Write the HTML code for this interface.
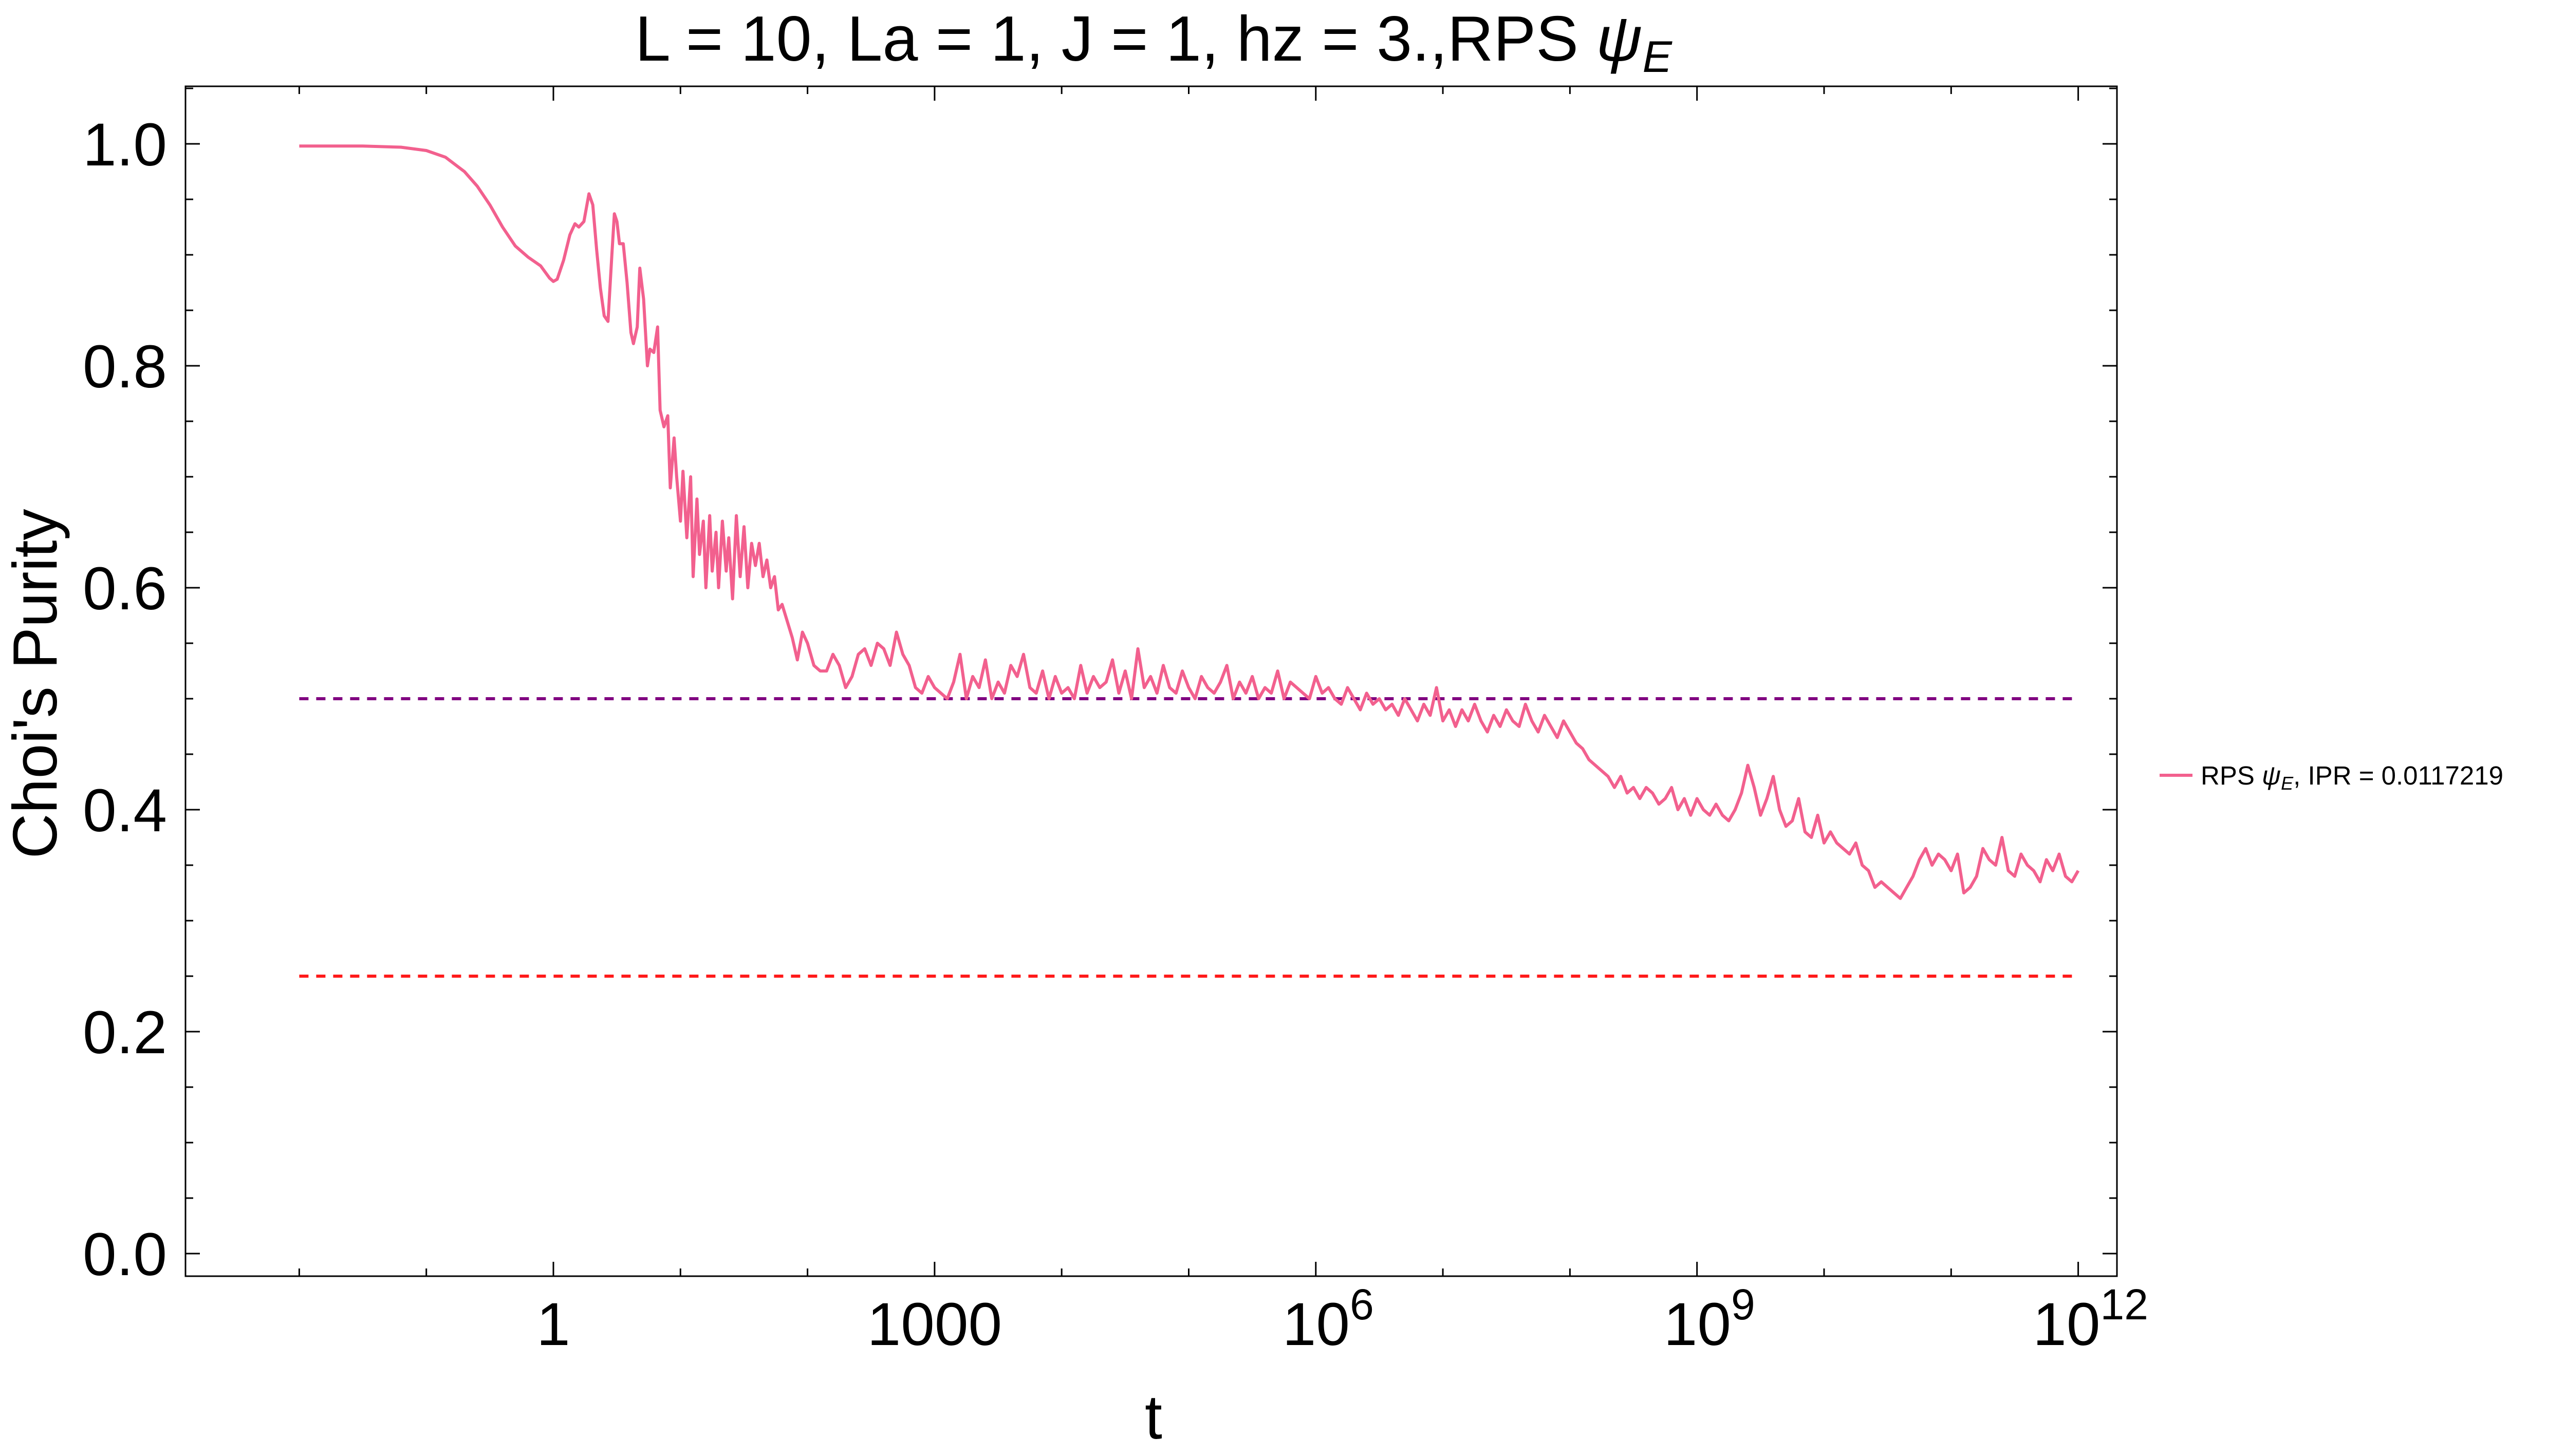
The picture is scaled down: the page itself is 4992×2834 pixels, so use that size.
<!DOCTYPE html>
<html><head><meta charset="utf-8"><style>
html,body{margin:0;padding:0;background:#fff;}
svg{display:block;font-family:"Liberation Sans",Arial,sans-serif;}
</style></head><body>
<svg id="chart" width="4992" height="2834" viewBox="0 0 4992 2834" xmlns="http://www.w3.org/2000/svg">
<rect x="0" y="0" width="4992" height="2834" fill="#fff"/>
<text x="2245" y="118" font-size="124" text-anchor="middle">L = 10, La = 1, J = 1, hz = 3.,RPS <tspan font-style="italic">ψ</tspan><tspan font-style="italic" font-size="86" dy="22">E</tspan></text>
<rect x="361" y="168" width="3759" height="2316" fill="none" stroke="#000" stroke-width="3"/>
<g id="ticks"></g>
<g id="ref-lines"></g>
<g id="series"></g>
<text transform="translate(110,1331) rotate(-90)" font-size="122" text-anchor="middle">Choi's Purity</text>
<text x="2245" y="2800" font-size="122" text-anchor="middle">t</text>
<g>
<line x1="4203" y1="1509" x2="4267" y2="1509" stroke="#F2608E" stroke-width="6"/>
<text x="4283" y="1527" font-size="51">RPS <tspan font-style="italic">ψ</tspan><tspan font-style="italic" font-size="36" dy="10">E</tspan><tspan dy="-10">, IPR = 0.0117219</tspan></text>
</g>
</svg>
<script>
const logT = [-2,-1.5,-1.2,-1,-0.85,-0.7,-0.6,-0.5,-0.4,-0.3,-0.2,-0.1,-0.03,0,0.03,0.08,0.13,0.17,0.2,0.24,0.28,0.31,0.34,0.37,0.4,0.43,0.46,0.48,0.5,0.52,0.55,0.58,0.61,0.63,0.66,0.68,0.71,0.74,0.76,0.79,0.82,0.84,0.87,0.9,0.92,0.95,0.97,1.0,1.02,1.05,1.08,1.1,1.13,1.15,1.18,1.2,1.23,1.25,1.28,1.3,1.33,1.36,1.38,1.41,1.44,1.47,1.5,1.53,1.56,1.59,1.62,1.65,1.68,1.71,1.74,1.77,1.8,1.84,1.88,1.92,1.96,2.0,2.05,2.1,2.15,2.2,2.25,2.3,2.35,2.4,2.45,2.5,2.55,2.6,2.65,2.7,2.75,2.8,2.85,2.9,2.95,3.0,3.05,3.1,3.15,3.2,3.25,3.3,3.35,3.4,3.45,3.5,3.55,3.6,3.65,3.7,3.75,3.8,3.85,3.9,3.95,4.0,4.05,4.1,4.15,4.2,4.25,4.3,4.35,4.4,4.45,4.5,4.55,4.6,4.65,4.7,4.75,4.8,4.85,4.9,4.95,5.0,5.05,5.1,5.15,5.2,5.25,5.3,5.35,5.4,5.45,5.5,5.55,5.6,5.65,5.7,5.75,5.8,5.85,5.9,5.95,6.0,6.05,6.1,6.15,6.2,6.25,6.3,6.35,6.4,6.45,6.5,6.55,6.6,6.65,6.7,6.75,6.8,6.85,6.9,6.95,7.0,7.05,7.1,7.15,7.2,7.25,7.3,7.35,7.4,7.45,7.5,7.55,7.6,7.65,7.7,7.75,7.8,7.85,7.9,7.95,8.0,8.05,8.1,8.15,8.2,8.25,8.3,8.35,8.4,8.45,8.5,8.55,8.6,8.65,8.7,8.75,8.8,8.85,8.9,8.95,9.0,9.05,9.1,9.15,9.2,9.25,9.3,9.35,9.4,9.45,9.5,9.55,9.6,9.65,9.7,9.75,9.8,9.85,9.9,9.95,10.0,10.05,10.1,10.15,10.2,10.25,10.3,10.35,10.4,10.45,10.5,10.55,10.6,10.65,10.7,10.75,10.8,10.85,10.9,10.95,11.0,11.05,11.1,11.15,11.2,11.25,11.3,11.35,11.4,11.45,11.5,11.55,11.6,11.65,11.7,11.75,11.8,11.85,11.9,11.95,12.0];
const purity = [0.998,0.998,0.997,0.994,0.988,0.975,0.962,0.945,0.925,0.908,0.898,0.89,0.879,0.876,0.878,0.895,0.918,0.928,0.925,0.93,0.955,0.945,0.905,0.87,0.845,0.84,0.9,0.937,0.93,0.91,0.91,0.875,0.83,0.82,0.835,0.888,0.86,0.8,0.815,0.812,0.835,0.76,0.745,0.755,0.69,0.735,0.7,0.66,0.705,0.645,0.7,0.61,0.68,0.63,0.66,0.6,0.665,0.615,0.65,0.6,0.66,0.615,0.645,0.59,0.665,0.61,0.655,0.6,0.64,0.62,0.64,0.61,0.625,0.6,0.61,0.58,0.585,0.57,0.555,0.535,0.56,0.55,0.53,0.525,0.525,0.54,0.53,0.51,0.52,0.54,0.545,0.53,0.55,0.545,0.53,0.56,0.54,0.53,0.51,0.505,0.52,0.51,0.505,0.5,0.515,0.54,0.5,0.52,0.51,0.535,0.5,0.515,0.505,0.53,0.52,0.54,0.51,0.505,0.525,0.5,0.52,0.505,0.51,0.5,0.53,0.505,0.52,0.51,0.515,0.535,0.505,0.525,0.5,0.545,0.51,0.52,0.505,0.53,0.51,0.505,0.525,0.51,0.5,0.52,0.51,0.505,0.515,0.53,0.5,0.515,0.505,0.52,0.5,0.51,0.505,0.525,0.5,0.515,0.51,0.505,0.5,0.52,0.505,0.51,0.5,0.495,0.51,0.5,0.49,0.505,0.495,0.5,0.49,0.495,0.485,0.5,0.49,0.48,0.495,0.485,0.51,0.48,0.49,0.475,0.49,0.48,0.495,0.48,0.47,0.485,0.475,0.49,0.48,0.475,0.495,0.48,0.47,0.485,0.475,0.465,0.48,0.47,0.46,0.455,0.445,0.44,0.435,0.43,0.42,0.43,0.415,0.42,0.41,0.42,0.415,0.405,0.41,0.42,0.4,0.41,0.395,0.41,0.4,0.395,0.405,0.395,0.39,0.4,0.415,0.44,0.42,0.395,0.41,0.43,0.4,0.385,0.39,0.41,0.38,0.375,0.395,0.37,0.38,0.37,0.365,0.36,0.37,0.35,0.345,0.33,0.335,0.33,0.325,0.32,0.33,0.34,0.355,0.365,0.35,0.36,0.355,0.345,0.36,0.325,0.33,0.34,0.365,0.355,0.35,0.375,0.345,0.34,0.36,0.35,0.345,0.335,0.355,0.345,0.36,0.34,0.335,0.345,0.35];
const yTickLabels = ["0.0","0.2","0.4","0.6","0.8","1.0"];
const yTickValues = [0,0.2,0.4,0.6,0.8,1.0];
const xTickDecades = [0,3,6,9,12];
const refLevels = [0.5,0.25];

const NS="http://www.w3.org/2000/svg";
const X0=1077, DEC=247.3, Y0=2440, YU=2160;
function xs(lt){return X0+lt*DEC;}
function ys(v){return Y0-v*YU;}
function mk(tag,attrs,parent){const e=document.createElementNS(NS,tag);for(const k in attrs)e.setAttribute(k,attrs[k]);parent.appendChild(e);return e;}

const ticks=document.getElementById('ticks');
for(let d=-2;d<=12;d++){
  const major=xTickDecades.includes(d);const L=major?28:15;const x=xs(d);
  const t1=mk('line',{x1:x,y1:2484,x2:x,y2:2484-L,stroke:'#000','stroke-width':3},ticks);
  
  
  const t2=mk('line',{x1:x,y1:168,x2:x,y2:168+L,stroke:'#000','stroke-width':3},ticks);
  
  
}
xTickDecades.forEach(d=>{
  const t=mk('text',{x:xs(d),y:2618,'font-size':118,'text-anchor':'middle'},ticks);
  
  
  if(d===0)t.textContent='1';
  else if(d===3)t.textContent='1000';
  else{t.textContent='10';const s=document.createElementNS(NS,'tspan');s.setAttribute('font-size','84');s.setAttribute('dy','-50');s.textContent=String(d);t.appendChild(s);t.setAttribute('x',xs(d)+24);}
});
for(let i=0;i<=21;i++){
  const v=i*0.05;const major=(i%4===0);const L=major?28:15;const y=ys(v);
  const a=mk('line',{x1:361,y1:y,x2:361+L,y2:y,stroke:'#000','stroke-width':3},ticks);
  
  
  const b=mk('line',{x1:4120,y1:y,x2:4120-L,y2:y,stroke:'#000','stroke-width':3},ticks);
  
  
}
yTickValues.forEach((v,i)=>{
  const t=mk('text',{x:325,y:ys(v)+42,'font-size':118,'text-anchor':'end'},ticks);
  
  
  t.textContent=yTickLabels[i];
});
const ref=document.getElementById('ref-lines');
const refColors=['#800080','#FF1A1A'];
refLevels.forEach((v,i)=>{
  const l=mk('line',{x1:xs(-2),y1:ys(v),x2:xs(12),y2:ys(v),stroke:refColors[i],'stroke-width':6,'stroke-dasharray':'18 15'},ref);
  
  
});
const ser=document.getElementById('series');
let d='';
logT.forEach((lt,i)=>{d+=(i?'L':'M')+xs(lt).toFixed(1)+' '+ys(purity[i]).toFixed(1);});
const p=mk('path',{d:d,fill:'none',stroke:'#F2608E','stroke-width':6,'stroke-linejoin':'round'},ser);


</script>
</body></html>
